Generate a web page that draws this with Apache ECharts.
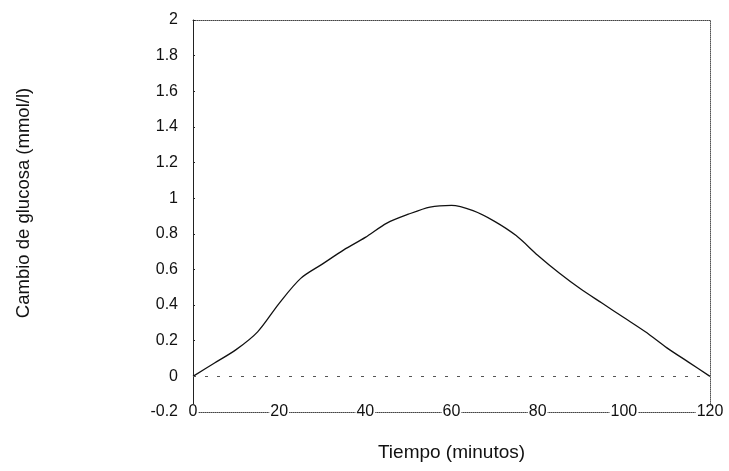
<!DOCTYPE html>
<html>
<head>
<meta charset="utf-8">
<script src="https://cdn.jsdelivr.net/npm/echarts@6/dist/echarts.min.js"></script>
<style>html,body{margin:0;padding:0;background:#fff}#c{width:729px;height:471px}</style>
</head>
<body>
<div id="c"></div>
<script>
var minutes = [0, 5, 10, 15, 20, 25, 30, 35, 40, 45, 50, 55, 60, 65, 70, 75, 80, 85, 90, 95, 100, 105, 110, 115, 120];
var glucoseChange = [0, 0.075, 0.15, 0.25, 0.41, 0.55, 0.63, 0.71, 0.78, 0.86, 0.91, 0.95, 0.96, 0.93, 0.87, 0.79, 0.68, 0.58, 0.49, 0.41, 0.33, 0.25, 0.16, 0.08, 0];
var xTitle = 'Tiempo (minutos)';
var yTitle = 'Cambio de glucosa (mmol/l)';

var font = 'Liberation Sans, Arial, sans-serif';
var chart = echarts.init(document.getElementById('c'), null, {renderer: 'canvas'});
var seriesData = minutes.map(function (m, i) { return [m, glucoseChange[i]]; });

chart.setOption({
  animation: false,
  backgroundColor: '#fff',
  grid: {left: 193, right: 19, top: 20, bottom: 59},
  xAxis: [{
    type: 'value', min: 0, max: 120, interval: 20, position: 'bottom',
    name: xTitle, nameLocation: 'middle', nameGap: 31,
    nameTextStyle: {fontFamily: font, fontSize: 19, color: '#111'},
    axisLine: {show: true, onZero: false, lineStyle: {color: '#444', type: 'dotted', width: 1}},
    axisTick: {show: false},
    splitLine: {show: false},
    axisLabel: {margin: 0, verticalAlign: 'middle', fontFamily: font, fontSize: 16, color: '#111', backgroundColor: '#fff', padding: [0, 1]}
  }, {
    type: 'value', min: 0, max: 120, position: 'top',
    axisLine: {show: true, onZero: false, lineStyle: {color: '#444', type: 'dotted', width: 1}},
    axisTick: {show: false}, axisLabel: {show: false}, splitLine: {show: false}
  }],
  yAxis: [{
    type: 'value', min: -0.2, max: 2, interval: 0.2, position: 'left',
    name: yTitle, nameLocation: 'middle', nameGap: 160, nameRotate: 90,
    nameTextStyle: {fontFamily: font, fontSize: 18.5, color: '#111', padding: [0, 0, 0, 26]},
    axisLine: {show: true, onZero: false, lineStyle: {color: '#222', width: 1}},
    axisTick: {show: true, inside: true, length: 2, lineStyle: {color: '#222'}},
    splitLine: {show: false},
    axisLabel: {margin: 15, fontFamily: font, fontSize: 16, color: '#111'}
  }, {
    type: 'value', min: -0.2, max: 2, interval: 0.2, position: 'right',
    axisLine: {show: true, onZero: false, lineStyle: {color: '#555', type: 'dotted', width: 1}},
    axisTick: {show: false}, axisLabel: {show: false}, splitLine: {show: false}
  }],
  series: [{
    type: 'line',
    data: seriesData,
    xAxisIndex: 0, yAxisIndex: 0,
    showSymbol: false,
    smooth: 0.3,
    lineStyle: {color: '#111', width: 1.3},
    markLine: {
      silent: true, symbol: 'none', label: {show: false},
      lineStyle: {color: '#555', type: [3, 9], width: 1},
      data: [{yAxis: 0}]
    }
  }]
});
</script>
</body>
</html>
